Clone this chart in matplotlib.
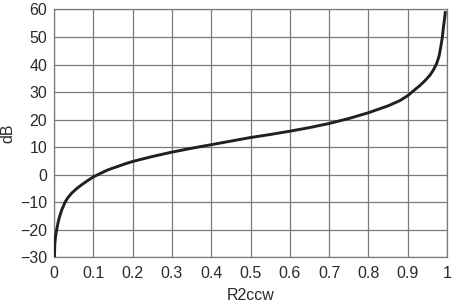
import matplotlib
matplotlib.use("Agg")
import matplotlib.pyplot as plt
import numpy as np

# values
r2ccw = [0.001, 0.002, 0.004, 0.0068, 0.01, 0.014, 0.02, 0.028, 0.035, 0.045, 0.058, 0.07,
         0.085, 0.1, 0.12, 0.138, 0.16, 0.18, 0.2, 0.25,
         0.3, 0.35, 0.4, 0.45, 0.5, 0.55, 0.6, 0.65, 0.7, 0.75, 0.8, 0.85, 0.88, 0.9,
         0.915, 0.932, 0.945, 0.957, 0.966, 0.974, 0.98, 0.984, 0.988, 0.991, 0.994, 0.996]
db = [-30.0, -25.3, -22.4, -20.0, -17.6, -15.3, -12.7, -10.0, -8.4, -6.7, -5.0, -3.7,
      -2.2, -0.8, 0.6, 1.8, 2.9, 3.9, 4.8, 6.6,
      8.2, 9.6, 10.9, 12.2, 13.5, 14.6, 15.8, 17.1, 18.6, 20.4, 22.5, 25.0, 26.9, 28.7,
      30.5, 32.5, 34.3, 36.2, 38.2, 40.5, 43.2, 46.3, 49.8, 53.6, 57.0, 59.4]

xticks = [0, 0.1, 0.2, 0.3, 0.4, 0.5, 0.6, 0.7, 0.8, 0.9, 1]
xticklabels = ["0", "0.1", "0.2", "0.3", "0.4", "0.5", "0.6", "0.7", "0.8", "0.9", "1"]
yticks = [-30, -20, -10, 0, 10, 20, 30, 40, 50, 60]
yticklabels = ["\u221230", "\u221220", "\u221210", "0", "10", "20", "30", "40", "50", "60"]

plt.rcParams['font.family'] = ['Liberation Sans', 'DejaVu Sans']

fig = plt.figure(figsize=(4.55, 3.07), dpi=100)
ax = fig.add_axes([54/455, 1 - 257.3/307, (447-54)/455, (257.3-9.5)/307])

ax.plot(r2ccw, db, color="#231f20", lw=2.1, solid_capstyle="butt",
        solid_joinstyle="round", zorder=3)

ax.set_xlim(0, 1)
ax.set_ylim(-30, 60)
ax.set_xticks(xticks)
ax.set_xticklabels(xticklabels)
ax.set_yticks(yticks)
ax.set_yticklabels(yticklabels)
ax.grid(True, color="#7a7a7a", lw=0.9)
for s in ax.spines.values():
    s.set_color("#7a7a7a")
    s.set_linewidth(0.9)
ax.tick_params(length=0, labelsize=11.5, labelcolor="#2a2a2a")
ax.tick_params(axis="x", pad=6)
ax.tick_params(axis="y", pad=5)
ax.set_xlabel("R2ccw", fontsize=11.5, color="#2a2a2a", labelpad=5)
ax.set_ylabel("dB", fontsize=11.5, color="#2a2a2a", labelpad=3)

fig.savefig("out.png", dpi=100)
